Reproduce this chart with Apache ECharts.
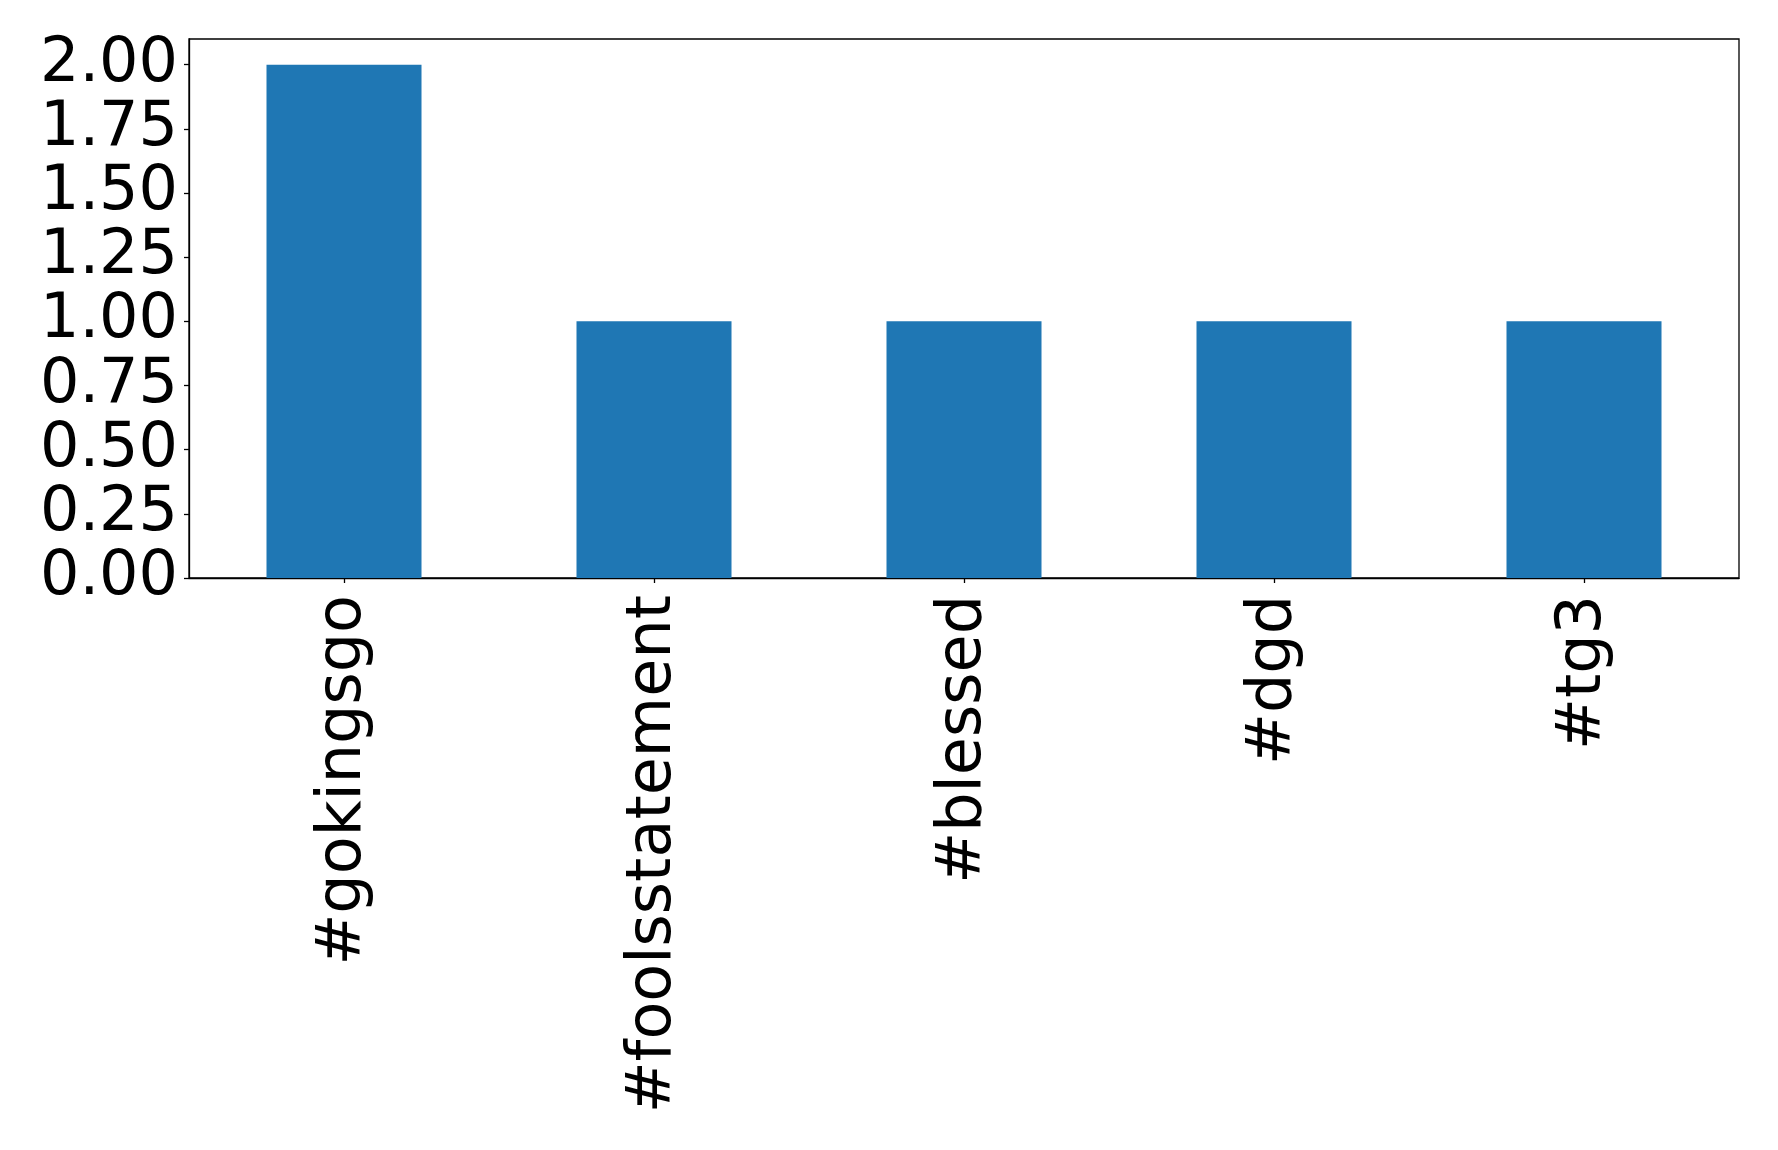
<!DOCTYPE html>
<html>
<head>
<meta charset="utf-8">
<script src="https://cdn.jsdelivr.net/npm/echarts@6/dist/echarts.min.js"></script>
<style>
html,body{margin:0;padding:0;background:#fff;}
#chart{width:1778px;height:1150px;}
</style>
</head>
<body>
<div id="chart"></div>
<script>
const categories = ['#gokingsgo', '#foolsstatement', '#blessed', '#dgd', '#tg3'];
const counts = [2, 1, 1, 1, 1];
const yTicks = [0, 0.25, 0.5, 0.75, 1.0, 1.25, 1.5, 1.75, 2.0];
const yMax = 2.1;

const chart = echarts.init(document.getElementById('chart'), null, {renderer: 'canvas'});
const font = 'DejaVu Sans';
chart.setOption({
  animation: false,
  backgroundColor: '#ffffff',
  grid: {
    left: 189, top: 39, right: 39, bottom: 572,
    show: true, borderColor: '#000', borderWidth: 1.3, backgroundColor: 'transparent',
    containLabel: false
  },
  xAxis: {
    type: 'category',
    data: categories,
    axisLine: {show: true, lineStyle: {color: '#000', width: 1.3}},
    axisTick: {show: true, alignWithLabel: true, length: 5, lineStyle: {color: '#000', width: 1.3}},
    axisLabel: {rotate: 90, margin: 17, fontSize: 62, color: '#000', fontFamily: font, interval: 0},
    splitLine: {show: false}
  },
  yAxis: {
    type: 'value',
    min: 0, max: yMax,
    axisLine: {show: true, lineStyle: {color: '#000', width: 1.3}},
    axisTick: {show: true, length: 5, customValues: yTicks, lineStyle: {color: '#000', width: 1.3}},
    axisLabel: {
      margin: 11, fontSize: 62, color: '#000', fontFamily: font,
      customValues: yTicks,
      showMinLabel: true, showMaxLabel: true, hideOverlap: false,
      formatter: v => v.toFixed(2)
    },
    splitLine: {show: false}
  },
  series: [{
    type: 'bar',
    data: counts,
    barWidth: '50%',
    itemStyle: {color: '#1f77b4'}
  }]
});
</script>
</body>
</html>
